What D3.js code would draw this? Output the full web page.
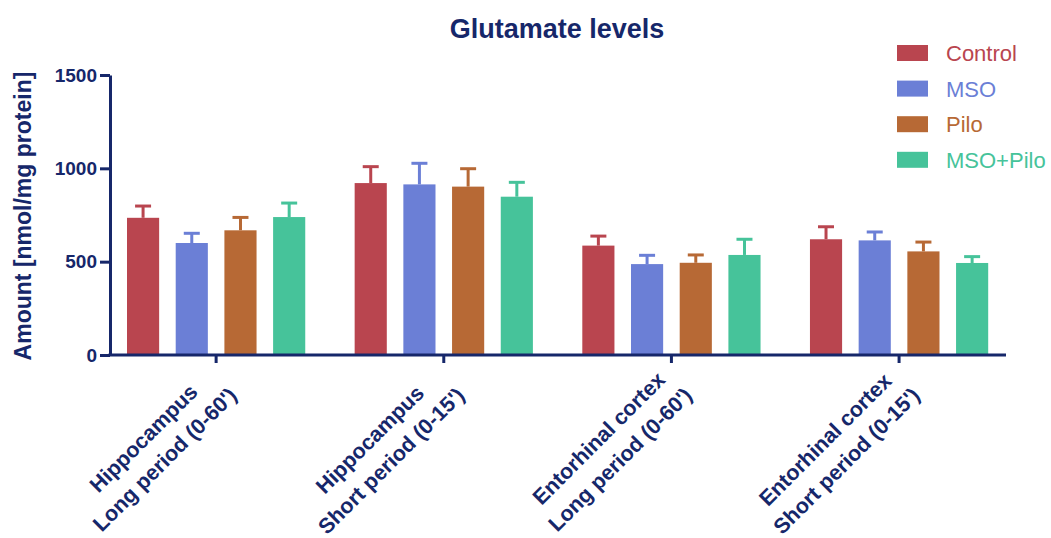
<!DOCTYPE html>
<html>
<head>
<meta charset="utf-8">
<script src="https://cdn.jsdelivr.net/npm/d3@7"></script>
<style>
  html, body { margin: 0; padding: 0; background: #fff; }
  svg { display: block; font-family: "Liberation Sans", Arial, Helvetica, sans-serif; }
</style>
</head>
<body>
<svg id="chart" width="1051" height="538"></svg>
<script>
// Glutamate levels per brain region and sampling period (mean + SD)
const groups = [
  ["Hippocampus", "Long period (0-60')"],
  ["Hippocampus", "Short period (0-15')"],
  ["Entorhinal cortex", "Long period (0-60')"],
  ["Entorhinal cortex", "Short period (0-15')"]
];
const seriesNames = ["Control", "MSO", "Pilo", "MSO+Pilo"];
const controlMean = [735, 921, 586, 620];
const controlSD   = [63, 88, 51, 67];
const msoMean     = [600, 914, 487, 614];
const msoSD       = [52, 113, 47, 45];
const piloMean    = [668, 902, 494, 555];
const piloSD      = [69, 96, 42, 50];
const msoPiloMean = [739, 848, 536, 493];
const msoPiloSD   = [75, 77, 84, 34];
const yTicks = [0, 500, 1000, 1500];

const colors = {
  "Control": "#B9454F",
  "MSO": "#6B7FD6",
  "Pilo": "#B76935",
  "MSO+Pilo": "#46C39A"
};
const navy = "#16276A";

const means = [controlMean, msoMean, piloMean, msoPiloMean];
const sds = [controlSD, msoSD, piloSD, msoPiloSD];
const groupKeys = groups.map((g, i) => "g" + i);

const rows = [];
groupKeys.forEach((gk, gi) => {
  seriesNames.forEach((s, si) => {
    rows.push({ group: gk, series: s, mean: means[si][gi], sd: sds[si][gi] });
  });
});

const svg = d3.select("#chart");

const x0 = d3.scaleBand().domain(groupKeys).range([102.3, 1012.9]).padding(0);
const x1 = d3.scaleBand().domain(seriesNames).range([-97.4, 97.4])
  .paddingInner(0.34).paddingOuter(0.17);
const y = d3.scaleLinear().domain([0, 1500]).range([355, 75]);

const axisX = 110, axisRight = 1006;

// Title
svg.append("text")
  .attr("x", 557).attr("y", 38)
  .attr("text-anchor", "middle")
  .attr("font-size", 27).attr("font-weight", "bold")
  .attr("fill", navy)
  .text("Glutamate levels");

// Y axis label
svg.append("text")
  .attr("transform", `translate(31,216) rotate(-90)`)
  .attr("text-anchor", "middle")
  .attr("font-size", 23).attr("font-weight", "bold")
  .attr("fill", navy)
  .text("Amount [nmol/mg protein]");

// Bars
const bars = svg.append("g");
bars.selectAll("rect").data(rows).join("rect")
  .attr("x", d => x0(d.group) + x0.bandwidth() / 2 + x1(d.series))
  .attr("width", x1.bandwidth())
  .attr("y", d => y(d.mean))
  .attr("height", d => y(0) - y(d.mean))
  .attr("fill", d => colors[d.series]);

// Error bars (upper SD)
const capHalf = 8;
const err = svg.append("g");
rows.forEach(d => {
  const cx = x0(d.group) + x0.bandwidth() / 2 + x1(d.series) + x1.bandwidth() / 2;
  err.append("line")
    .attr("x1", cx).attr("x2", cx)
    .attr("y1", y(d.mean)).attr("y2", y(d.mean + d.sd))
    .attr("stroke", colors[d.series]).attr("stroke-width", 3);
  err.append("line")
    .attr("x1", cx - capHalf).attr("x2", cx + capHalf)
    .attr("y1", y(d.mean + d.sd)).attr("y2", y(d.mean + d.sd))
    .attr("stroke", colors[d.series]).attr("stroke-width", 3);
});

// Y axis
const yAxis = svg.append("g")
  .attr("transform", `translate(${axisX},0)`)
  .call(d3.axisLeft(y).tickValues(yTicks).tickFormat(d3.format("d"))
    .tickSize(10).tickPadding(3).tickSizeOuter(0));
yAxis.select(".domain").attr("stroke", navy).attr("stroke-width", 3);
yAxis.selectAll(".tick line").attr("stroke", navy).attr("stroke-width", 3);
yAxis.selectAll(".tick text")
  .attr("font-size", 19).attr("font-weight", "bold")
  .attr("font-family", "Liberation Sans, Arial, sans-serif")
  .attr("fill", navy);

// X axis
const xAxis = svg.append("g")
  .attr("transform", `translate(0,${y(0)})`)
  .call(d3.axisBottom(x0).tickSize(8).tickSizeOuter(0).tickFormat(""));
xAxis.select(".domain").remove();
xAxis.selectAll(".tick line").attr("stroke", navy).attr("stroke-width", 3);
svg.append("line")
  .attr("x1", axisX - 1.5).attr("x2", axisRight)
  .attr("y1", y(0)).attr("y2", y(0))
  .attr("stroke", navy).attr("stroke-width", 3);

// Rotated two-line category labels
const labelSize = 21.5, lineGap = 30;
groupKeys.forEach((gk, gi) => {
  const tx = x0(gk) + x0.bandwidth() / 2;
  const g = svg.append("g")
    .attr("transform", `translate(${tx},362) rotate(-45)`);
  const t = groups[gi].map((line, li) => g.append("text")
    .attr("text-anchor", "middle")
    .attr("dominant-baseline", "central")
    .attr("font-size", labelSize).attr("font-weight", "bold")
    .attr("fill", navy)
    .attr("y", 3 + li * lineGap)
    .text(line));
  const maxLen = d3.max(t, n => n.node().getComputedTextLength());
  t.forEach(n => n.attr("x", -(maxLen / 2 + 9)));
});

// Legend
const legend = svg.append("g");
seriesNames.forEach((s, i) => {
  const yy = 45 + i * 35.6;
  legend.append("rect")
    .attr("x", 897).attr("y", yy).attr("width", 31).attr("height", 16)
    .attr("fill", colors[s]);
  legend.append("text")
    .attr("x", 946).attr("y", yy + 16)
    .attr("font-size", 22)
    .attr("fill", colors[s])
    .text(s);
});
</script>
</body>
</html>
